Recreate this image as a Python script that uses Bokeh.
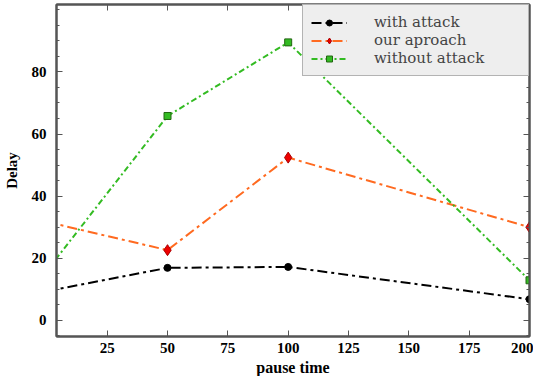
from bokeh.plotting import figure
from bokeh.models import LinearAxis, FixedTicker, Range1d, Legend, LegendItem, CustomJSTickFormatter
from bokeh.embed import file_html
from bokeh.resources import INLINE

pause_time = [0, 50, 100, 200]
with_attack = [9.4, 16.9, 17.2, 6.8]
our_aproach = [31.7, 22.6, 52.4, 30.0]
without_attack = [16.0, 65.8, 89.5, 12.9]
x_ticks = [25, 50, 75, 100, 125, 150, 175, 200]
y_ticks = [0, 20, 40, 60, 80]
y_minor = list(range(-5, 105, 5))

p = figure(width=533, height=378, output_backend="svg", toolbar_location=None,
           x_range=Range1d(4, 200), y_range=Range1d(-5.2, 101.7),
           min_border_left=52, min_border_right=4, min_border_top=4, min_border_bottom=20)
p.grid.visible = False
p.outline_line_color = "#555555"
p.outline_line_width = 2
p.background_fill_color = "white"

FONT = "Liberation Serif"

def style_axis(ax):
    ax.axis_line_color = "#555555"
    ax.axis_line_width = 2
    ax.major_tick_in = 6
    ax.major_tick_out = 0
    ax.minor_tick_in = 3
    ax.minor_tick_out = 0
    ax.major_tick_line_color = "#555555"
    ax.minor_tick_line_color = "#555555"
    ax.major_label_text_font = FONT
    ax.major_label_text_font_style = "bold"
    ax.major_label_text_font_size = "15px"
    ax.major_label_text_color = "black"
    ax.axis_label_text_font = FONT
    ax.axis_label_text_font_style = "bold"
    ax.axis_label_text_font_size = "16px"
    ax.axis_label_text_color = "black"

xa = p.xaxis[0]
xa.ticker = FixedTicker(ticks=x_ticks)
xa.axis_label = "pause time"
style_axis(xa)
xa.axis_label_standoff = 3
xa.major_label_standoff = 6

ya = p.yaxis[0]
ya.ticker = FixedTicker(ticks=y_ticks, minor_ticks=y_minor)
ya.axis_label = "Delay"
style_axis(ya)
ya.axis_label_text_font_size = "15px"
ya.axis_label_standoff = 9
ya.major_label_standoff = 10

blank = CustomJSTickFormatter(code="return ''")
top = LinearAxis(ticker=FixedTicker(ticks=x_ticks), formatter=blank)
style_axis(top)
top.major_label_standoff = 0
top.major_label_text_font_size = "1px"
p.add_layout(top, "above")
right = LinearAxis(ticker=FixedTicker(ticks=y_ticks, minor_ticks=y_minor), formatter=blank)
style_axis(right)
right.major_label_standoff = 0
right.major_label_text_font_size = "1px"
p.add_layout(right, "right")

l1 = p.line(pause_time, with_attack, line_color="black", line_width=2, line_dash="10 4 3 4")
m1 = p.scatter(pause_time[1:], with_attack[1:], marker="circle", size=7, fill_color="black", line_color="black")
l2 = p.line(pause_time, our_aproach, line_color="#ff6a20", line_width=2, line_dash="10 4 3 4")
m2 = p.scatter(pause_time[1:], our_aproach[1:], marker="diamond", size=11, fill_color="#ee0000", line_color="#aa0000")
l3 = p.line(pause_time, without_attack, line_color="#33bb22", line_width=2, line_dash="6 3 2 3")
m3 = p.scatter(pause_time[1:], without_attack[1:], marker="square", size=7, fill_color="#33bb22", line_color="#226611")

legend = Legend(items=[
    LegendItem(label="with attack", renderers=[l1, m1]),
    LegendItem(label="our aproach", renderers=[l2, m2]),
    LegendItem(label="without attack", renderers=[l3, m3]),
], location="top_right")
legend.label_text_font = "DejaVu Serif"
legend.label_text_font_size = "15px"
legend.label_standoff = 27
legend.glyph_width = 36
legend.glyph_height = 15
legend.label_height = 15
legend.label_width = 146
legend.spacing = 0
legend.padding = 8
legend.margin = 0
legend.background_fill_color = "#eeeeee"
legend.background_fill_alpha = 1
legend.border_line_color = "#777777"
legend.border_line_width = 1.5
p.add_layout(legend)

open("out.html", "w").write(file_html(p, INLINE))
